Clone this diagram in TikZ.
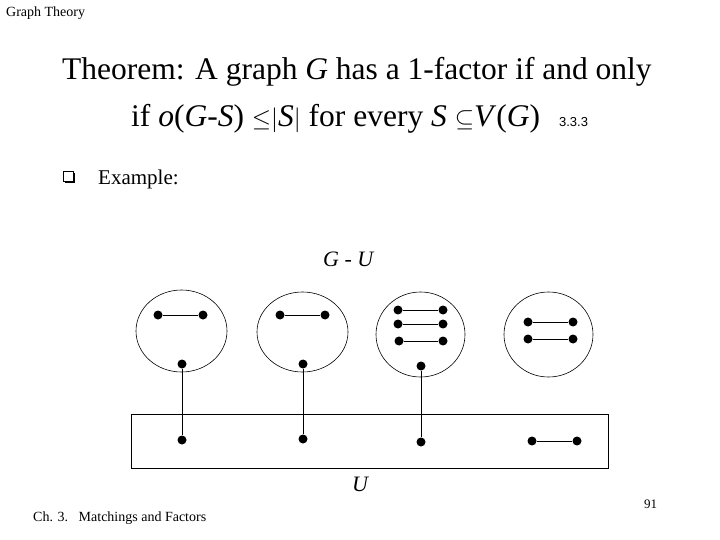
\documentclass[tikz,border=0pt]{standalone}
\usepackage{fontspec}
\setmainfont{Liberation Serif}
\setsansfont{Liberation Sans}
\usetikzlibrary{shapes.geometric}
\begin{document}
\begin{tikzpicture}[x=1pt,y=-1pt,
  dot/.style={circle,fill=black,inner sep=0pt,minimum size=9pt},
  blob/.style={ellipse,draw,line width=0.6pt,inner sep=0pt},
  edge/.style={line width=0.8pt},
  txt/.style={inner sep=0pt,anchor=base west}]
\useasboundingbox (0,0) rectangle (720,540);
% header/footer
\node[txt,font=\fontsize{14}{16}\selectfont] (hdr) at (6,17) {Graph Theory};
\node[txt,font=\fontsize{14}{16}\selectfont] (ftr) at (33,521) {Ch. 3.\ \ \ Matchings and Factors};
\node[txt,font=\fontsize{13}{15}\selectfont] (pg) at (644,508) {91};
% title
\node[txt,font=\fontsize{31.5}{35}\selectfont] (t1) at (62,80) {Theorem: A graph \textit{G} has a 1-factor if and only};
\node[txt,font=\fontsize{31.5}{35}\selectfont] (t2) at (131,127) {if \textit{o}(\textit{G}-\textit{S}) $\leq$$|$\textit{S}$|$ for every \textit{S} $\subseteq$\textit{V}(\textit{G})\hspace{19pt}{\sffamily\fontsize{13}{15}\selectfont 3.3.3}};
% bullet
\fill[black] (65,173.5) rectangle (75,183.5);
\draw[fill=white,line width=0.6pt] (63,171.5) rectangle (73,181.5);
\node[txt,font=\fontsize{21}{25}\selectfont] (ex) at (98,185) {Example:};
\node[txt,font=\fontsize{22}{26}\selectfont\itshape] (gu) at (323,266) {G - U};
\node[txt,font=\fontsize{22}{26}\selectfont\itshape] (uu) at (352,491) {U};
% U box
\draw[line width=0.6pt] (131,414) rectangle (608,468);
% blobs
\node[blob,minimum width=91pt,minimum height=82pt] (c1) at (181.5,331) {};
\node[blob,minimum width=91pt,minimum height=80pt] (c2) at (302.5,332) {};
\node[blob,minimum width=89pt,minimum height=85pt] (c3) at (420.5,334.5) {};
\node[blob,minimum width=89pt,minimum height=85pt] (c4) at (548.5,334.5) {};
% component 1
\node[dot] (a1) at (158,315) {};
\node[dot] (a2) at (203,315) {};
\node[dot] (a3) at (182,364) {};
\node[dot] (u1) at (182,440) {};
% component 2
\node[dot] (b1) at (280,315) {};
\node[dot] (b2) at (325,315) {};
\node[dot] (b3) at (303,364) {};
\node[dot] (u2) at (303,439) {};
% component 3
\node[dot] (d1) at (398,310) {};
\node[dot] (d2) at (443,310) {};
\node[dot] (d3) at (398,324) {};
\node[dot] (d4) at (443,324) {};
\node[dot] (d5) at (399,341) {};
\node[dot] (d6) at (443,341) {};
\node[dot] (d7) at (421,366) {};
\node[dot] (u3) at (421,442) {};
% component 4
\node[dot] (e1) at (528,322) {};
\node[dot] (e2) at (573,322) {};
\node[dot] (e3) at (528,339) {};
\node[dot] (e4) at (573,339) {};
\node[dot] (u4) at (532,441) {};
\node[dot] (u5) at (577,441) {};
% edges
\draw[edge] (a1) -- (a2) (a3) -- (u1);
\draw[edge] (b1) -- (b2) (b3) -- (u2);
\draw[edge] (d1) -- (d2) (d3) -- (d4) (d5) -- (d6) (d7) -- (u3);
\draw[edge] (e1) -- (e2) (e3) -- (e4) (u4) -- (u5);
\end{tikzpicture}
\end{document}
